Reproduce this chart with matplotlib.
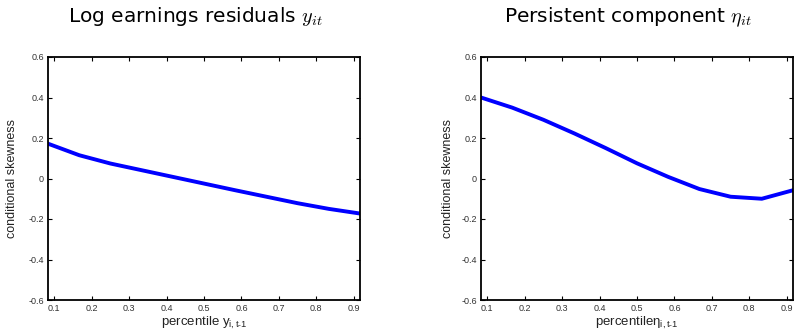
import matplotlib
matplotlib.use('Agg')
import matplotlib.pyplot as plt

# percentiles (k/12, k = 1..11)
pct = [1/12, 2/12, 3/12, 4/12, 5/12, 6/12, 7/12, 8/12, 9/12, 10/12, 11/12]

# conditional skewness, log earnings residuals
skew_y = [0.172, 0.115, 0.074, 0.041, 0.008, -0.025, -0.058, -0.090, -0.122, -0.150, -0.173]
# conditional skewness, persistent component
skew_eta = [0.400, 0.350, 0.290, 0.222, 0.150, 0.075, 0.008, -0.052, -0.090, -0.100, -0.058]

xticks = [0.1, 0.2, 0.3, 0.4, 0.5, 0.6, 0.7, 0.8, 0.9]
yticks = [-0.6, -0.4, -0.2, 0, 0.2, 0.4, 0.6]
ytick_labels = ['-0.6', '-0.4', '-0.2', '0', '0.2', '0.4', '0.6']

titles = [r'Log earnings residuals $\mathit{y_{it}}$',
          r'Persistent component $\mathit{\eta_{it}}$']
xlabels = [r'percentile y$_{i,t\text{-}1}$', r'percentileη$_{i,t\text{-}1}$']

plt.rcParams['font.family'] = ['Liberation Sans', 'DejaVu Sans']
plt.rcParams['mathtext.fontset'] = 'cm'
plt.rcParams['mathtext.default'] = 'regular'

W, H = 794, 335
fig = plt.figure(figsize=(W / 100, H / 100), dpi=100)

# axes boxes in pixels: left, top, right, bottom
boxes = [(48, 57, 360, 300), (481, 57, 793, 300)]
title_x = [195, 628]
ylabel_x = [12, 448]

for i, (series, box) in enumerate(zip([skew_y, skew_eta], boxes)):
    l, t, r, b = box
    ax = fig.add_axes([l / W, 1 - b / H, (r - l) / W, (b - t) / H])
    ax.plot(pct, series, color='#0000ff', linewidth=2.8)
    ax.set_xlim(1/12, 11/12)
    ax.set_ylim(-0.6, 0.6)
    ax.set_xticks(xticks)
    ax.set_xticklabels([f'{v:.1f}' for v in xticks])
    ax.set_yticks(yticks)
    ax.set_yticklabels(ytick_labels)
    ax.tick_params(direction='in', length=3, width=0.8, top=True, right=True,
                   labelsize=6.5, labelcolor='#333333', pad=3)
    for s in ax.spines.values():
        s.set_linewidth(1.3)
    ax.set_xlabel(xlabels[i], fontsize=9.5, labelpad=1, color='#222222')
    fig.text(ylabel_x[i] / W, 1 - ((t + b) / 2) / H, 'conditional skewness',
             rotation=90, ha='center', va='center', fontsize=9, color='#222222')
    fig.text(title_x[i] / W, 1 - 17 / H, titles[i], ha='center', va='center',
             fontsize=14.5, family=['DejaVu Sans'])

fig.savefig('out.png', dpi=100)
